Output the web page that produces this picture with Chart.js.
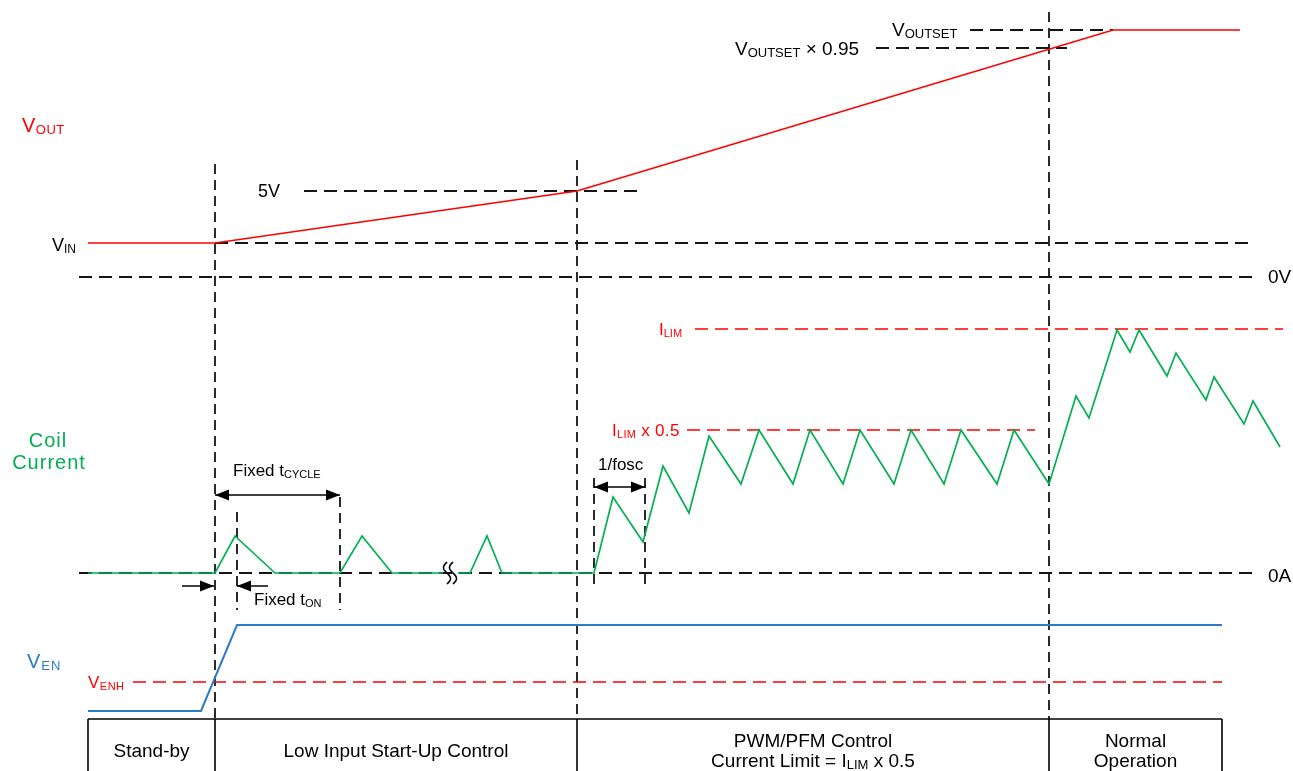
<!DOCTYPE html>
<html>
<head>
<meta charset="utf-8">
<script src="https://cdn.jsdelivr.net/npm/chart.js@4.4.1/dist/chart.umd.min.js"></script>
<style>
  html, body { margin: 0; padding: 0; background: #fff; }
  #wrap { width: 1293px; height: 771px; }
</style>
</head>
<body>
<div id="wrap"><canvas id="timing" width="1293" height="771"></canvas></div>
<script>
// time runs left -> right, level is measured down from the top edge
const voutTime = [88, 215, 577, 1113, 1240];
const voutLevel = [243, 243, 191, 30, 30];

// null = the "time break" in the start-up pulses
const coilTime = [88, 215, 235, 275, 340, 362, 392, 443, 450, 458, 470, 487, 502, 594,
  613, 643, 663, 689, 709, 741, 759, 793, 810, 843, 860, 894, 911, 944, 961, 997, 1014, 1049,
  1076, 1089, 1117, 1130, 1139, 1167, 1176, 1206, 1214, 1244, 1253, 1280];
const coilLevel = [573, 573, 536, 573, 573, 536, 573, 573, null, 573, 573, 536, 573, 573,
  497, 542, 466, 513, 436, 484, 430, 484, 430, 484, 430, 484, 430, 484, 430, 484, 430, 484,
  396, 418, 330, 352, 330, 376, 353, 400, 377, 424, 401, 447];

const enTime = [88, 201, 237, 1222];
const enLevel = [711, 711, 625, 625];

// [from, to, level]
const levelGuides = [
  [215, 1255, 243],  // VIN
  [79, 1255, 277],   // 0V
  [304, 638, 191],   // 5V
  [876, 1067, 48],   // VOUTSET x 0.95
  [970, 1113, 30],   // VOUTSET
  [79, 1255, 573]    // 0A
];
const limitGuides = [
  [695, 1283, 329],  // ILIM
  [687, 1035, 430],  // ILIM x 0.5
  [133, 1222, 682]   // VENH
];
// [time, from, to]
const timeMarkers = [
  [215, 164, 719], [577, 160, 719], [1049, 12, 719],
  [237, 512, 610], [340, 497, 610], [594, 478, 584], [645, 478, 584]
];
// [from, to, level, heads]
const spans = [
  [215, 340, 495, 2], [594, 645, 487, 2], [182, 214, 586, 1], [268, 237, 586, 1]
];

const phaseEdges = [88, 215, 577, 1049, 1222];
const phaseTop = 719;
const phaseBottom = 771;
const phaseLine1 = ['Stand-by', 'Low Input Start-Up Control', 'PWM/PFM Control', 'Normal'];
const phaseLine2 = ['', '', 'Current Limit = I|LIM| x 0.5', 'Operation'];

const RED = '#ff0000', GREEN = '#00b050', BLUE = '#2b7bc9', DARK = '#141414';
const FONT = '"Liberation Sans", Arial, sans-serif';

const pts = (ts, ls) => ts.map((t, i) => ({ x: t, y: ls[i] }));

function line(data, color, width, dash, order) {
  return {
    data: data, showLine: true, borderColor: color, backgroundColor: color,
    borderWidth: width, borderDash: dash || [], pointRadius: 0, fill: false,
    order: order, clip: false, spanGaps: false
  };
}

const datasets = [
  line(pts(coilTime, coilLevel), GREEN, 1.7, null, 0),
  line(pts(voutTime, voutLevel), RED, 1.7, null, 1),
  line(pts(enTime, enLevel), BLUE, 2, null, 1)
];
levelGuides.forEach(g => datasets.push(line([{ x: g[0], y: g[2] }, { x: g[1], y: g[2] }], DARK, 1.8, [13, 7], 5)));
limitGuides.forEach(g => datasets.push(line([{ x: g[0], y: g[2] }, { x: g[1], y: g[2] }], RED, 1.7, [13, 7], 4)));
timeMarkers.forEach(m => datasets.push(line([{ x: m[0], y: m[1] }, { x: m[0], y: m[2] }], DARK, 1.8, [10, 6], 6)));
spans.forEach(s => datasets.push(line([{ x: s[0], y: s[2] }, { x: s[1], y: s[2] }], '#000', 1.5, null, 2)));
// phase table
datasets.push(line([{ x: phaseEdges[0], y: phaseTop }, { x: phaseEdges[phaseEdges.length - 1], y: phaseTop }], '#000', 1.6, null, 2));
phaseEdges.forEach(e => datasets.push(line([{ x: e, y: phaseTop }, { x: e, y: phaseBottom }], '#000', 1.6, null, 2)));

// labels: text with |sub| marks, anchored at a baseline in data units
const labels = [
  { x: 22, y: 132, t: 'V|OUT|', size: 20, color: RED, spacing: 0.5 },
  { x: 52, y: 251, t: 'V|IN|', size: 18 },
  { x: 258, y: 197, t: '5V', size: 18 },
  { x: 735, y: 55, t: 'V|OUTSET| × 0.95', size: 19 },
  { x: 892, y: 36, t: 'V|OUTSET|', size: 19 },
  { x: 1268, y: 283, t: '0V', size: 19 },
  { x: 1268, y: 582, t: '0A', size: 19 },
  { x: 659, y: 335, t: 'I|LIM|', size: 17, color: RED },
  { x: 612, y: 436, t: 'I|LIM| x 0.5', size: 17, color: RED, spacing: 0.3 },
  { x: 48, y: 447, t: 'Coil', size: 20, color: GREEN, align: 'center', spacing: 1 },
  { x: 49, y: 469, t: 'Current', size: 20, color: GREEN, align: 'center', spacing: 1 },
  { x: 233, y: 476, t: 'Fixed t|CYCLE|', size: 17 },
  { x: 254, y: 605, t: 'Fixed t|ON|', size: 17 },
  { x: 598, y: 470, t: '1/fosc', size: 17 },
  { x: 27, y: 668, t: 'V|EN|', size: 20, color: BLUE, spacing: 1 },
  { x: 88, y: 688, t: 'V|ENH|', size: 17, color: RED, spacing: 0.5 }
];
phaseLine1.forEach((name, i) => {
  const mid = (phaseEdges[i] + phaseEdges[i + 1]) / 2;
  const two = phaseLine2[i] !== '';
  labels.push({ x: mid, y: two ? 747 : 757, t: name, size: 19, align: 'center' });
  if (two) labels.push({ x: mid, y: 767, t: phaseLine2[i], size: 19, align: 'center' });
});

function drawRich(ctx, lab, px, py) {
  const parts = lab.t.split('|').map((s, i) => ({ s: s, sub: i % 2 === 1 }));
  const sub = Math.round(lab.size * 0.66);
  ctx.letterSpacing = (lab.spacing || 0) + 'px';
  let w = 0;
  parts.forEach(p => {
    ctx.font = (p.sub ? sub : lab.size) + 'px ' + FONT;
    p.w = ctx.measureText(p.s).width;
    w += p.w;
  });
  let x = lab.align === 'center' ? px - w / 2 : px;
  ctx.fillStyle = lab.color || '#000';
  ctx.textBaseline = 'alphabetic';
  ctx.textAlign = 'left';
  parts.forEach(p => {
    ctx.font = (p.sub ? sub : lab.size) + 'px ' + FONT;
    ctx.fillText(p.s, x, py + (p.sub ? 2 : 0));
    x += p.w;
  });
  ctx.letterSpacing = '0px';
}

const annotate = {
  id: 'annotate',
  afterDatasetsDraw(chart) {
    const ctx = chart.ctx, xs = chart.scales.x, ys = chart.scales.y;
    ctx.save();
    // arrow heads
    ctx.fillStyle = '#000';
    spans.forEach(s => {
      const y = ys.getPixelForValue(s[2]);
      const ends = s[3] === 2 ? [[s[0], s[1]], [s[1], s[0]]] : [[s[1], s[0]]];
      ends.forEach(e => {
        const tip = xs.getPixelForValue(e[0]);
        const dir = Math.sign(xs.getPixelForValue(e[1]) - tip);
        ctx.beginPath();
        ctx.moveTo(tip, y);
        ctx.lineTo(tip + dir * 14, y - 5.5);
        ctx.lineTo(tip + dir * 14, y + 5.5);
        ctx.closePath();
        ctx.fill();
      });
    });
    // time break mark on the coil current trace
    const bx = xs.getPixelForValue(450), by = ys.getPixelForValue(573);
    ctx.strokeStyle = '#000';
    ctx.lineWidth = 1.6;
    [-3, 3].forEach(off => {
      ctx.beginPath();
      for (let k = 0; k <= 24; k++) {
        const t = k / 24;
        const x = bx + off - 3.5 * Math.sin(t * 2 * Math.PI);
        const y = by - 11 + 22 * t;
        if (k === 0) ctx.moveTo(x, y); else ctx.lineTo(x, y);
      }
      ctx.stroke();
    });
    labels.forEach(l => drawRich(ctx, l, xs.getPixelForValue(l.x), ys.getPixelForValue(l.y)));
    ctx.restore();
  }
};

new Chart(document.getElementById('timing'), {
  type: 'scatter',
  data: { datasets: datasets },
  options: {
    responsive: false,
    animation: false,
    devicePixelRatio: 1,
    layout: { padding: 0 },
    scales: {
      x: { type: 'linear', min: 0, max: 1293, display: false },
      y: { type: 'linear', min: 0, max: 771, reverse: true, display: false }
    },
    plugins: { legend: { display: false }, tooltip: { enabled: false } },
    elements: { point: { radius: 0 }, line: { tension: 0 } }
  },
  plugins: [annotate]
});
</script>
</body>
</html>
